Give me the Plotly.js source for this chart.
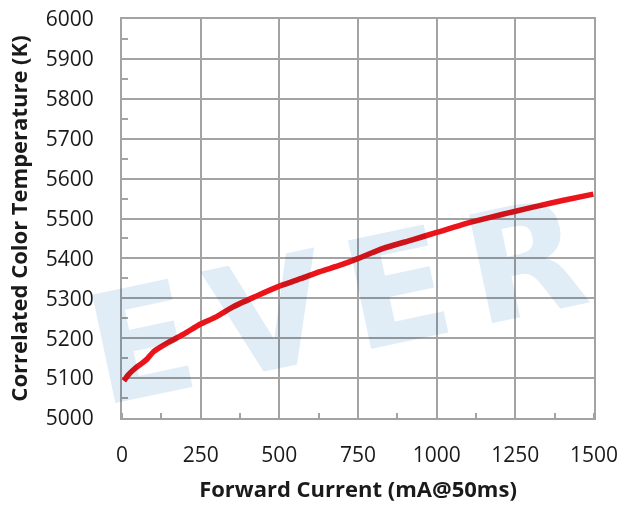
<!DOCTYPE html>
<html><head><meta charset="utf-8">
<script src="https://cdn.plot.ly/plotly-3.0.1.min.js"></script>
<style>html,body{margin:0;padding:0;background:#fff;}#chart{width:623px;height:509px;}</style>
</head><body><div id="chart"></div>
<script>
const currentMA = [6, 20, 41, 63, 80, 100, 142, 200, 248, 301, 354, 420, 502, 570, 629, 693, 751, 830, 920, 1000, 1095, 1170, 1244, 1320, 1400, 1498];
const cctK =      [5093, 5108, 5124, 5137, 5148, 5166, 5187, 5212, 5235, 5254, 5279, 5303, 5331, 5350, 5367, 5383, 5400, 5425, 5446, 5465, 5488, 5503, 5517, 5531, 5545, 5561];
const xTicks = [0, 250, 500, 750, 1000, 1250, 1500];
const yTicks = [5000, 5100, 5200, 5300, 5400, 5500, 5600, 5700, 5800, 5900, 6000];

const gridC = '#a3a3a3';
const tickFont = {family: 'Open Sans, sans-serif', size: 21, color: '#1a1a1a'};
const titleFont = {family: 'Open Sans, sans-serif', size: 22, color: '#1a1a1a', weight: 'bold'};

const trace = {
  x: currentMA, y: cctK, mode: 'lines', type: 'scatter',
  line: {color: '#ec141b', width: 5.5, shape: 'spline', smoothing: 0.6},
  hoverinfo: 'skip'
};

const layout = {
  width: 623, height: 509,
  margin: {l: 122, r: 29, t: 19, b: 91},
  paper_bgcolor: '#fff', plot_bgcolor: '#fff',
  showlegend: false,
  xaxis: {
    range: [0, 1500], tickvals: xTicks, ticktext: xTicks.map(String),
    showgrid: true, gridcolor: gridC, gridwidth: 2,
    showline: true, linecolor: gridC, linewidth: 2, mirror: true,
    ticks: '', tickfont: tickFont, ticklabelstandoff: 17,
    minor: {dtick: 125, tick0: 125, ticks: 'inside', ticklen: 5, tickcolor: gridC, tickwidth: 2, showgrid: false},
    zeroline: false,
    title: {text: 'Forward Current (mA@50ms)', font: titleFont, standoff: 14}
  },
  yaxis: {
    range: [5000, 6000], tickvals: yTicks, ticktext: yTicks.map(String),
    showgrid: true, gridcolor: gridC, gridwidth: 2,
    showline: true, linecolor: gridC, linewidth: 2, mirror: true,
    ticks: '', tickfont: tickFont, ticklabelstandoff: 22,
    minor: {dtick: 100, tick0: 5050, ticks: 'inside', ticklen: 6, tickcolor: gridC, tickwidth: 2, showgrid: false},
    zeroline: false,
    title: {text: 'Correlated Color Temperature (K)', font: titleFont, standoff: 12}
  },
  annotations: [{
    xref: 'paper', yref: 'paper', x: 0.474, y: 0.295, xanchor: 'center', yanchor: 'middle',
    text: 'EVER', showarrow: false, textangle: -12,
    font: {family: 'DejaVu Sans, sans-serif', size: 152, color: 'rgb(224,236,246)', weight: 'bold'}
  }]
};

Plotly.newPlot('chart', [trace], layout, {displayModeBar: false, staticPlot: true}).then(function(gd){
  const ann = gd.querySelectorAll('.annotation');
  const mainSvg = gd.querySelector('svg.main-svg');
  ann.forEach(a => {
    const t = a.querySelector('text');
    if (t) t.style.letterSpacing = '20px';
    a.style.mixBlendMode = 'multiply';
    mainSvg.appendChild(a);
  });
});
</script></body></html>
